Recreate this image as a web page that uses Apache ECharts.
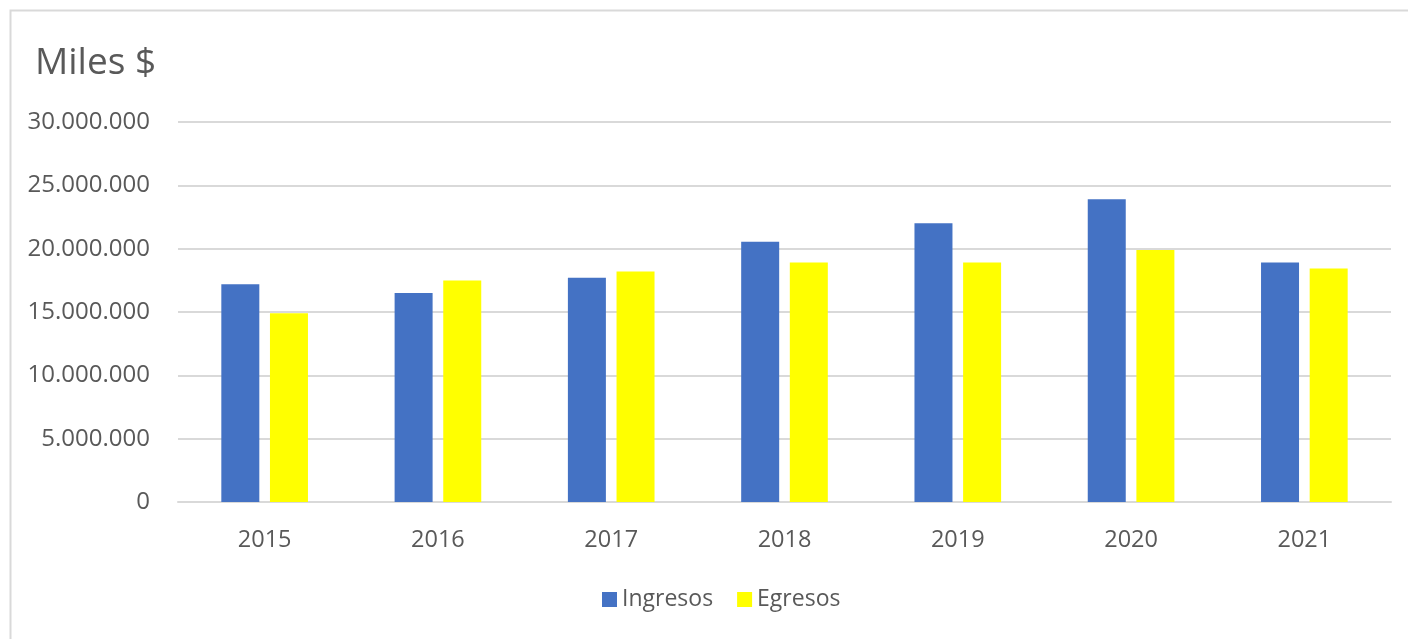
<!DOCTYPE html>
<html><head><meta charset="utf-8">
<script src="https://cdn.jsdelivr.net/npm/echarts@6/dist/echarts.min.js"></script>
<style>html,body{margin:0;padding:0;background:#fff}#c{width:1408px;height:639px}</style>
</head><body><div id="c"></div>
<script>
const categories = ['2015','2016','2017','2018','2019','2020','2021'];
const ingresos = [17200000, 16500000, 17700000, 20550000, 22000000, 23900000, 18900000];
const egresos = [14900000, 17480000, 18200000, 18900000, 18900000, 19900000, 18430000];
const yTicks = [0, 5000000, 10000000, 15000000, 20000000, 25000000, 30000000];

const fmt = v => String(v).replace(/\B(?=(\d{3})+(?!\d))/g, '.');
const chart = echarts.init(document.getElementById('c'));
chart.setOption({
  animation: false,
  backgroundColor: '#fff',
  textStyle: { fontFamily: 'Open Sans' },
  title: {
    text: 'Miles $', left: 30, top: 40,
    textStyle: { fontFamily: 'Open Sans', fontSize: 37, fontWeight: 'normal', color: '#595959' }
  },
  graphic: [{
    type: 'rect', silent: true,
    shape: { x: 10.5, y: 10.5, width: 1500, height: 800 },
    style: { fill: 'none', stroke: '#d9d9d9', lineWidth: 2 }
  }],
  legend: {
    left: 597, top: 583, itemWidth: 15, itemHeight: 15, itemGap: 24,
    icon: 'rect',
    textStyle: { fontFamily: 'Open Sans', fontSize: 23, color: '#595959' }
  },
  grid: { left: 178, right: 17, top: 122, bottom: 137 },
  xAxis: {
    type: 'category', data: categories,
    axisLine: { lineStyle: { color: '#d9d9d9', width: 2 } },
    axisTick: { show: false },
    axisLabel: { fontSize: 23.5, color: '#595959', margin: 26, fontFamily: 'Open Sans' }
  },
  yAxis: {
    type: 'value', min: yTicks[0], max: yTicks[yTicks.length - 1], interval: 5000000,
    axisLine: { show: false }, axisTick: { show: false },
    splitLine: { lineStyle: { color: '#d9d9d9', width: 2 } },
    axisLabel: { fontSize: 24, color: '#595959', margin: 28, fontFamily: 'Open Sans', formatter: fmt }
  },
  series: [
    { name: 'Ingresos', type: 'bar', data: ingresos, barWidth: 38, barGap: '28%', itemStyle: { color: '#4472C4' } },
    { name: 'Egresos', type: 'bar', data: egresos, barWidth: 38, barGap: '28%', itemStyle: { color: '#FFFF00' } }
  ]
});
</script></body></html>
